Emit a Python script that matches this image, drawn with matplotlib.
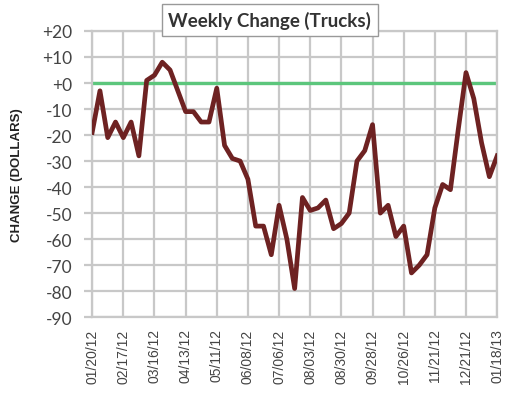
import matplotlib
matplotlib.use("Agg")
import matplotlib.pyplot as plt
import numpy as np

week_labels = ["01/20/12", "02/17/12", "03/16/12", "04/13/12", "05/11/12", "06/08/12",
               "07/06/12", "08/03/12", "08/30/12", "09/28/12", "10/26/12", "11/21/12",
               "12/21/12", "01/18/13"]
values = [-19, -3, -21, -15, -21, -15, -28, 1, 3, 8, 5, -3, -11, -11, -15, -15,
          -2, -24, -29, -30, -37, -55, -55, -66, -47, -60, -79, -44, -49, -48,
          -45, -56, -54, -50, -30, -26, -16, -50, -47, -59, -55, -73, -70, -66,
          -48, -39, -41, -18, 4, -6, -23, -36, -28]
yticks = [20, 10, 0, -10, -20, -30, -40, -50, -60, -70, -80, -90]
ytick_labels = ["+20", "+10", "+0", "-10", "-20", "-30", "-40", "-50", "-60", "-70", "-80", "-90"]
title = "Weekly Change (Trucks)"
ylabel = "CHANGE (DOLLARS)"

fig = plt.figure(figsize=(5.12, 4.10), dpi=100)
ax = fig.add_axes([0.18, 0.224, 0.791, 0.698])
x = np.arange(len(values))
ax.set_xlim(0, len(values) - 1)
ax.set_ylim(-90, 20)
ax.set_yticks(yticks)
ax.set_yticklabels(ytick_labels, fontsize=12.5, color="#444444", family="Lato")
ax.set_xticks(np.arange(0, len(values), 4))
ax.set_xticklabels(week_labels, rotation=90, fontsize=10, color="#444444", family="Liberation Sans")
ax.grid(True, color="#c8c8c8", linewidth=1.6)
ax.set_axisbelow(True)
for s in ax.spines.values():
    s.set_color("#c8c8c8")
    s.set_linewidth(1.6)
ax.tick_params(axis="y", length=6, color="#c8c8c8", width=1.6, pad=8)
ax.tick_params(axis="x", length=0, pad=8)
ax.axhline(0, color="#5cc67c", linewidth=2.4, zorder=2)
ax.plot(x, values, color="#6e2222", linewidth=3.4, zorder=3, solid_joinstyle="round")
ax.set_ylabel(ylabel, fontsize=9.5, fontweight="bold", color="#222222", family="Liberation Sans")
ax.yaxis.set_label_coords(-0.172, 0.5)

fig.text(0.527, 0.949, title, ha="center", va="center", fontsize=13.5, fontweight="bold",
         color="#333333", family="Lato",
         bbox=dict(boxstyle="square,pad=0.35", facecolor="white", edgecolor="#999999", linewidth=1))
fig.savefig("out.png", dpi=100)
